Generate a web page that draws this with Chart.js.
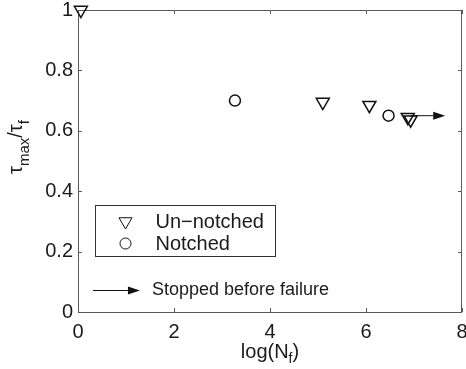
<!DOCTYPE html>
<html><head><meta charset="utf-8">
<script src="https://cdn.jsdelivr.net/npm/chart.js@4/dist/chart.umd.min.js"></script>
<style>html,body{margin:0;padding:0;background:#fff}#wrap{width:466px;height:369px}</style>
</head><body><div id="wrap"><canvas id="c" width="466" height="369"></canvas></div>
<script>
// ---- data ----
const unnotchedX = [0.06, 5.1, 6.07, 6.87, 6.93];
const unnotchedY = [1.0, 0.695, 0.685, 0.645, 0.637];
const notchedX = [3.27, 6.47];
const notchedY = [0.70, 0.65];
const seriesLabels = ['Un\u2212notched', 'Notched'];
const xTicks = [0, 2, 4, 6, 8];
const xTickLabels = ['0', '2', '4', '6', '8'];
const yTicks = [0, 0.2, 0.4, 0.6, 0.8, 1];
const yTickLabels = ['0', '0.2', '0.4', '0.6', '0.8', '1'];
const runoutArrowX = [6.93, 7.65];
const runoutArrowY = [0.65, 0.65];
const keyArrowX = [0.31, 1.29];
const keyArrowY = [0.073, 0.073];
const keyArrowText = 'Stopped before failure';
const xTitle = [{t: 'log(N'}, {t: 'f', sub: true}, {t: ')'}];
const yTitle = [{t: '\u03C4'}, {t: 'max', sub: true}, {t: '/\u03C4'}, {t: 'f', sub: true}];

const FONT = '"Liberation Sans", Arial, sans-serif';
const TXT = '#1a1a1a';
const AXC = '#5a5a5a';

function drawRich(ctx, segs, size, subSize, subShift) {
  let w = 0;
  const parts = segs.map(s => {
    ctx.font = (s.sub ? subSize : size) + 'px ' + FONT;
    const m = ctx.measureText(s.t).width;
    const p = {t: s.t, sub: s.sub, w: m, x: w};
    w += m;
    return p;
  });
  return {w, draw: (x0, y0) => {
    parts.forEach(p => {
      ctx.font = (p.sub ? subSize : size) + 'px ' + FONT;
      ctx.fillText(p.t, x0 + p.x, y0 + (p.sub ? subShift : 0));
    });
  }};
}

function arrow(ctx, x0, y0, x1, y1) {
  const hl = 12, hw = 4;
  const ang = Math.atan2(y1 - y0, x1 - x0);
  ctx.save();
  ctx.strokeStyle = '#111'; ctx.fillStyle = '#111'; ctx.lineWidth = 1;
  ctx.beginPath(); ctx.moveTo(x0, y0);
  ctx.lineTo(x1 - hl * Math.cos(ang), y1 - hl * Math.sin(ang)); ctx.stroke();
  ctx.translate(x1, y1); ctx.rotate(ang);
  ctx.beginPath(); ctx.moveTo(0, 0); ctx.lineTo(-hl, -hw); ctx.lineTo(-hl, hw); ctx.closePath(); ctx.fill();
  ctx.restore();
}

const markerOpts = [
  {pointStyle: 'triangle', rotation: 180, radius: 7.5, borderWidth: 1.5},
  {pointStyle: 'circle', rotation: 0, radius: 5.5, borderWidth: 1.5}
];

const decor = {
  id: 'decor',
  beforeDatasetsDraw(chart) {
    const {ctx, chartArea: a, scales: {x, y}} = chart;
    ctx.save();
    ctx.strokeStyle = AXC; ctx.lineWidth = 1;
    ctx.strokeRect(Math.round(a.left) + 0.5, Math.round(a.top) + 0.5, Math.round(a.right - a.left) - 1, Math.round(a.bottom - a.top));
    const tl = 4;
    xTicks.forEach(v => {
      const px = Math.round(x.getPixelForValue(v)) + 0.5;
      ctx.beginPath();
      ctx.moveTo(px, a.bottom); ctx.lineTo(px, a.bottom - tl);
      ctx.moveTo(px, a.top); ctx.lineTo(px, a.top + tl);
      ctx.stroke();
    });
    yTicks.forEach(v => {
      const py = Math.round(y.getPixelForValue(v)) + 0.5;
      ctx.beginPath();
      ctx.moveTo(a.left, py); ctx.lineTo(a.left + tl, py);
      ctx.moveTo(a.right, py); ctx.lineTo(a.right - tl, py);
      ctx.stroke();
    });
    ctx.restore();
  },
  afterDraw(chart) {
    const {ctx, chartArea: a, scales: {x, y}} = chart;
    ctx.save();
    // run-out arrow next to the last specimens
    arrow(ctx, x.getPixelForValue(runoutArrowX[0]), y.getPixelForValue(runoutArrowY[0]),
               x.getPixelForValue(runoutArrowX[1]), y.getPixelForValue(runoutArrowY[1]));
    // key arrow + explanation
    const ky = Math.round(y.getPixelForValue(keyArrowY[0])) + 0.5;
    arrow(ctx, x.getPixelForValue(keyArrowX[0]), ky, x.getPixelForValue(keyArrowX[1]), ky);
    ctx.fillStyle = TXT; ctx.font = '18px ' + FONT; ctx.textBaseline = 'middle'; ctx.textAlign = 'left';
    ctx.fillText(keyArrowText, x.getPixelForValue(keyArrowX[1]) + 12, ky);
    // legend
    const lx0 = Math.round(x.getPixelForValue(0.35)) + 0.5, lx1 = Math.round(x.getPixelForValue(4.1)) + 0.5;
    const ly0 = Math.round(y.getPixelForValue(0.354)) + 0.5, ly1 = Math.round(y.getPixelForValue(0.185)) + 0.5;
    ctx.fillStyle = '#fff'; ctx.fillRect(lx0, ly0, lx1 - lx0, ly1 - ly0);
    ctx.strokeStyle = '#333'; ctx.lineWidth = 1; ctx.strokeRect(lx0, ly0, lx1 - lx0, ly1 - ly0);
    seriesLabels.forEach((lab, i) => {
      const ry = ly0 + 16 + i * 22;
      ctx.strokeStyle = '#111'; ctx.fillStyle = 'rgba(0,0,0,0)';
      Chart.helpers.drawPoint(ctx, markerOpts[i], lx0 + 30, ry);
      ctx.fillStyle = TXT; ctx.font = '20px ' + FONT; ctx.textBaseline = 'middle';
      ctx.fillText(lab, lx0 + 60, ry + 1);
    });
    // axis titles
    ctx.fillStyle = TXT; ctx.textBaseline = 'alphabetic'; ctx.textAlign = 'left';
    const xt = drawRich(ctx, xTitle, 20, 14, 5);
    xt.draw((a.left + a.right) / 2 - xt.w / 2, 358);
    const yt = drawRich(ctx, yTitle, 20, 15, 7);
    ctx.translate(22, 147); ctx.rotate(-Math.PI / 2);
    yt.draw(-yt.w / 2, 0);
    ctx.restore();
  }
};

Chart.defaults.font.family = FONT;
Chart.defaults.font.size = 20;
Chart.defaults.color = TXT;

new Chart(document.getElementById('c'), {
  type: 'scatter',
  data: {
    datasets: [
      {label: seriesLabels[0], data: unnotchedX.map((v, i) => ({x: v, y: unnotchedY[i]})),
       pointStyle: 'triangle', rotation: 180, pointRadius: 7.5, pointBorderWidth: 1.5,
       borderColor: '#111', backgroundColor: 'rgba(0,0,0,0)', clip: false},
      {label: seriesLabels[1], data: notchedX.map((v, i) => ({x: v, y: notchedY[i]})),
       pointStyle: 'circle', pointRadius: 5.5, pointBorderWidth: 1.5,
       borderColor: '#111', backgroundColor: 'rgba(0,0,0,0)', clip: false}
    ]
  },
  options: {
    responsive: false, devicePixelRatio: 1, animation: false,
    layout: {autoPadding: false, padding: {top: 10, right: 4, left: 0, bottom: 0}},
    plugins: {legend: {display: false}, tooltip: {enabled: false}},
    scales: {
      x: {type: 'linear', min: 0, max: 8,
          afterBuildTicks: s => { s.ticks = xTicks.map(v => ({value: v})); },
          ticks: {padding: 8, maxRotation: 0, callback: (v) => xTickLabels[xTicks.indexOf(v)] ?? ''},
          grid: {display: false, drawTicks: false}, border: {display: false},
          afterFit: s => { s.height = 57; s.paddingLeft = 0; s.paddingRight = 0; }},
      y: {type: 'linear', min: 0, max: 1,
          afterBuildTicks: s => { s.ticks = yTicks.map(v => ({value: v})); },
          ticks: {padding: 5, callback: (v) => { const i = yTicks.findIndex(t => Math.abs(t - v) < 1e-9); return i >= 0 ? yTickLabels[i] : ''; }},
          grid: {display: false, drawTicks: false}, border: {display: false},
          afterFit: s => { s.width = 78; s.paddingTop = 0; s.paddingBottom = 0; }}
    }
  },
  plugins: [decor]
});
</script></body></html>
